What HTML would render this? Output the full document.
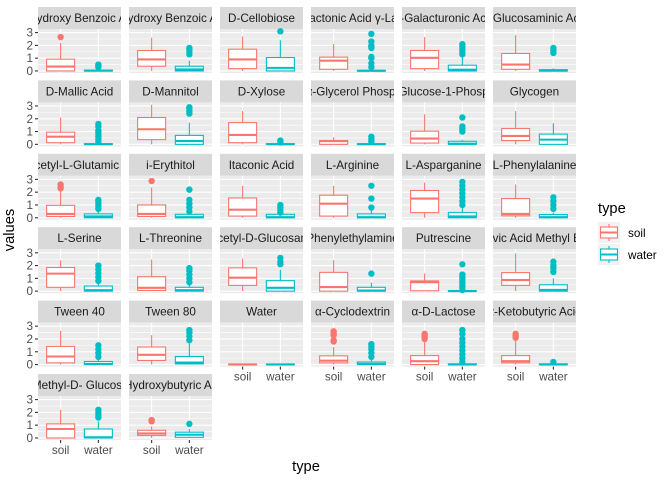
<!DOCTYPE html>
<html><head><meta charset="utf-8"><style>
body{margin:0;background:#fff}
svg{display:block;font-family:"Liberation Sans","DejaVu Sans",sans-serif}
</style></head><body>
<svg id="chart" width="672" height="480" viewBox="0 0 672 480">
<text x="14" y="230" transform="rotate(-90 14 230)" text-anchor="middle" font-size="14.7" fill="#000">values</text>
<text x="306" y="471" text-anchor="middle" font-size="14.7" fill="#000">type</text>
<g>
<text x="598" y="213" font-size="14.7" fill="#000">type</text>
<g>
<rect x="598" y="222" width="22" height="21" fill="#F2F2F2"/>
<line x1="609" y1="224" x2="609" y2="241" stroke="#F8766D" stroke-width="1.1"/>
<rect x="600.5" y="227" width="17" height="11" fill="#fff" stroke="#F8766D" stroke-width="1.1"/>
<line x1="600.5" y1="232.5" x2="617.5" y2="232.5" stroke="#F8766D" stroke-width="2"/>
<text x="628" y="237" font-size="11.7" fill="#000">soil</text></g>
<g>
<rect x="598" y="244" width="22" height="21" fill="#F2F2F2"/>
<line x1="609" y1="246" x2="609" y2="263" stroke="#00BFC4" stroke-width="1.1"/>
<rect x="600.5" y="249" width="17" height="11" fill="#fff" stroke="#00BFC4" stroke-width="1.1"/>
<line x1="600.5" y1="254.5" x2="617.5" y2="254.5" stroke="#00BFC4" stroke-width="2"/>
<text x="628" y="259" font-size="11.7" fill="#000">water</text></g>
</g>
<g id="panels"></g>
</svg>
<script>
const facets=["2-Hydroxy Benzoic Acid","4-Hydroxy Benzoic Acid","D-Cellobiose","D-Galactonic Acid γ-Lactone","D-Galacturonic Acid","D-Glucosaminic Acid",
"D-Mallic Acid","D-Mannitol","D-Xylose","DL-α-Glycerol Phosphate","α-D-Glucose-1-Phosphate","Glycogen",
"N-Acetyl-L-Glutamic Acid","i-Erythitol","Itaconic Acid","L-Arginine","L-Asparganine","L-Phenylalanine",
"L-Serine","L-Threonine","N-Acetyl-D-Glucosamine","Phenylethylamine","Putrescine","Pyruvic Acid Methyl Ester",
"Tween 40","Tween 80","Water","α-Cyclodextrin","α-D-Lactose","α-Ketobutyric Acid",
"β-Methyl-D- Glucoside","γ-Hydroxybutyric Acid"];
const categories=["soil","water"];
// [lower whisker, q1, median, q3, upper whisker]
const soilStats=[[0,0,0.34,0.92,2.2],[0,0.37,0.9,1.6,2.6],[0,0.18,0.9,1.7,2.7],[0,0.13,0.8,1.08,2.1],[0,0.18,1.03,1.6,2.65],[0,0.13,0.5,1.37,2.8],
[0,0.13,0.6,0.95,2.1],[0,0.37,1.18,2.1,3.1],[0,0.13,0.74,1.7,2.6],[0,0,0.26,0.3,0.55],[0,0.1,0.45,1.03,2.35],[0,0.3,0.66,1.24,2.6],
[0,0.1,0.3,0.97,2.15],[0,0.1,0.3,1.0,2.37],[0,0.13,0.63,1.55,2.5],[0,0.13,1.1,1.76,2.5],[0,0.4,1.5,2.13,2.75],[0,0.15,0.3,1.5,2.6],
[0,0.3,1.37,1.85,2.4],[0,0.05,0.26,1.13,2.47],[0,0.45,1.05,1.82,2.55],[0,0,0.32,1.47,2.42],[0,0.03,0.7,0.8,1.37],[0,0.45,0.87,1.45,2.95],
[0,0.13,0.63,1.42,2.63],[0,0.32,0.76,1.37,2.3],[0,0,0.01,0.03,0.04],[0,0.13,0.3,0.68,1.37],[0,0,0.26,0.7,1.9],[0,0.13,0.26,0.7,1.9],
[0,0,0.7,1.1,2.2],[0,0.2,0.35,0.6,0.9]];
const waterStats=[[0,0,0.02,0.07,0.2],[0,0,0.12,0.37,0.8],[0,0,0.24,1.05,2.4],[0,0,0.01,0.05,0.1],[0,0,0.1,0.45,1.05],[0,0,0.02,0.1,0.2],
[0,0,0.01,0.05,0.1],[0,0,0.26,0.7,1.7],[0,0,0.01,0.05,0.1],[0,0,0.01,0.05,0.1],[0,0,0.05,0.24,0.35],[0,0,0.37,0.8,1.65],
[0,0,0.1,0.3,0.5],[0,0,0.05,0.27,0.35],[0,0,0.05,0.27,0.35],[0,0,0.05,0.3,0.6],[0,0,0.1,0.42,0.9],[0,0,0.05,0.25,0.4],
[0,0,0.08,0.4,0.6],[0,0,0.08,0.3,0.5],[0,0,0.26,0.82,1.68],[0,0,0.05,0.3,0.66],[0,0,0.01,0.03,0.05],[0,0,0.1,0.5,1.0],
[0,0,0.05,0.24,0.4],[0,0.05,0.16,0.63,1.63],[0,0,0.01,0.03,0.04],[0,0,0.05,0.2,0.4],[0,0,0.01,0.05,0.1],[0,0,0.01,0.05,0.1],
[0,0,0.05,0.7,1.3],[0,0.05,0.25,0.45,0.7]];
const soilOutliers=[[2.65],[],[],[],[],[],
[],[],[],[],[],[],
[2.3,2.45,2.6],[2.87],[],[],[],[],
[],[],[],[],[],[],
[],[],[],[1.8,1.9,2.3,2.45,2.6],[2.0,2.15,2.3,2.4],[2.1,2.25,2.4],
[],[1.3,1.4]];
const waterOutliers=[[0.3,0.4,0.5],[1.3,1.5,1.7,1.8],[3.1],[0.3,0.6,1.0,1.1,1.8,1.9,2.0,2.3,2.9],[1.3,1.5,1.7,1.9,2.1],[1.4,1.6,1.8],
[0.2,0.4,0.6,0.8,1.0,1.1,1.4,1.6],[2.4,2.6,2.8,2.9],[0.15,0.3],[0.2,0.4,0.6],[1.0,1.2,1.4,2.1],[],
[0.7,0.9,1.1,1.3,1.4],[0.5,0.8,1.1,1.4,2.2],[0.4,0.6,0.8,1.0],[0.8,1.5,2.5],[1.0,1.3,1.6,1.9,2.2,2.5,2.8],[0.7,1.0,1.3,1.6],
[0.8,1.1,1.4,1.7,2.0],[0.7,1.0,1.3,1.6,1.8],[2.1,2.3,2.6],[1.37],[0.1,0.3,0.5,0.7,0.9,1.1,1.3,2.1],[1.5,1.8,2.0,2.3],
[0.6,0.9,1.2,1.5],[1.9,2.2,2.5,2.7],[],[0.6,0.9,1.2,1.4,1.6],[0.2,0.5,0.8,1.1,1.4,1.7,2.0,2.4,2.7],[0.2],
[1.6,1.8,2.0,2.2],[1.1]];
const yTicks=[0,1,2,3];
const yTickLabels=["0","1","2","3"];

const NS="http://www.w3.org/2000/svg";
const root=document.getElementById("panels");
function mk(tag,attrs,parent){const e=document.createElementNS(NS,tag);for(const k in attrs)e.setAttribute(k,attrs[k]);parent.appendChild(e);return e;}
const PW=83,PH=44,SH=22,colors=["#F8766D","#00BFC4"];
const yMin=-0.16,yMax=3.28;
function colLeft(c){return 38+91*c;}
function rowTop(r){return 7+73.4*r;}
function yScale(v,top){return top+SH+PH-(v-yMin)/(yMax-yMin)*PH;}
function xScale(i,left){return left+PW*(0.6+i)/2.2;}
const nCols=6;
const nPanels=facets.length;
facets.forEach((name,i)=>{
  const r=Math.floor(i/nCols),c=i%nCols;
  const left=colLeft(c),top=rowTop(r),pt=top+SH;
  const g=mk("g",{},root);
  
  
  const cp=mk("clipPath",{id:"cp"+i},g);
  mk("rect",{x:left,y:top,width:PW,height:SH},cp);
  const strip=mk("rect",{x:left,y:top,width:PW,height:SH,fill:"#D9D9D9"},g);
  
  
  const st=mk("text",{x:left+PW/2,y:top+15,"text-anchor":"middle","font-size":"11.7",fill:"#1A1A1A","clip-path":"url(#cp"+i+")"},g);
  st.textContent=name;
  
  
  mk("rect",{x:left,y:pt,width:PW,height:PH,fill:"#EBEBEB"},g);
  [0.5,1.5,2.5].forEach(v=>mk("line",{x1:left,x2:left+PW,y1:yScale(v,top),y2:yScale(v,top),stroke:"#fff","stroke-width":0.55},g));
  yTicks.forEach(v=>mk("line",{x1:left,x2:left+PW,y1:yScale(v,top),y2:yScale(v,top),stroke:"#fff","stroke-width":1.1},g));
  categories.forEach((cat,k)=>mk("line",{x1:xScale(k,left),x2:xScale(k,left),y1:pt,y2:pt+PH,stroke:"#fff","stroke-width":1.1},g));
  if(c===0){
    yTicks.forEach((v,k)=>{
      const y=yScale(v,top);
      mk("line",{x1:left-3,x2:left,y1:y,y2:y,stroke:"#333","stroke-width":1.1},g);
      const t=mk("text",{x:left-5,y:y+4,"text-anchor":"end","font-size":"11.7",fill:"#4D4D4D"},g);
      t.textContent=yTickLabels[k];
      
      
    });
  }
  if(i+nCols>=nPanels){
    categories.forEach((cat,k)=>{
      const x=xScale(k,left);
      mk("line",{x1:x,x2:x,y1:pt+PH,y2:pt+PH+3,stroke:"#333","stroke-width":1.1},g);
      const t=mk("text",{x:x,y:pt+PH+14,"text-anchor":"middle","font-size":"11.7",fill:"#4D4D4D"},g);
      t.textContent=cat;
      
      
    });
  }
  [soilStats[i],waterStats[i]].forEach((s,k)=>{
    const col=colors[k],x=xScale(k,left),hw=14;
    const bg=mk("g",{},g);
    
    
    mk("line",{x1:x,x2:x,y1:yScale(s[0],top),y2:yScale(s[4],top),stroke:col,"stroke-width":1.1},bg);
    const y1=yScale(s[3],top),y2=yScale(s[1],top);
    mk("rect",{x:x-hw,y:y1,width:2*hw,height:Math.max(y2-y1,0.5),fill:"#fff",stroke:col,"stroke-width":1.1},bg);
    mk("line",{x1:x-hw,x2:x+hw,y1:yScale(s[2],top),y2:yScale(s[2],top),stroke:col,"stroke-width":2.1},bg);
    (k===0?soilOutliers[i]:waterOutliers[i]).forEach(v=>{
      const o=mk("circle",{cx:x,cy:yScale(v,top),r:3.2,fill:col},bg);
      
      
    });
  });
});
</script>
</body></html>
